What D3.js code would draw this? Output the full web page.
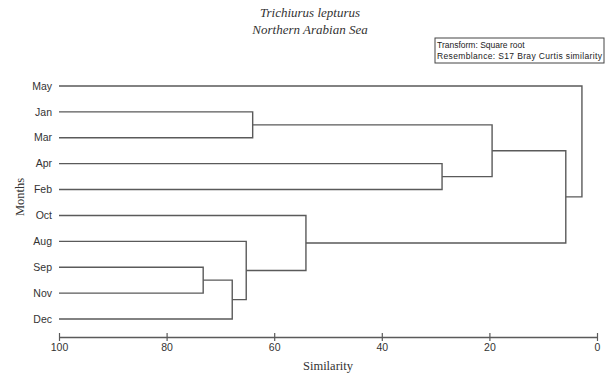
<!DOCTYPE html>
<html><head><meta charset="utf-8">
<script src="https://cdn.jsdelivr.net/npm/d3@7"></script>
<style>body{margin:0;background:#fff}svg{display:block}</style>
</head><body>
<script>
const months = ["May","Jan","Mar","Apr","Feb","Oct","Aug","Sep","Nov","Dec"];
// merges: children indices (0-9 leaves, 10+ earlier merges) and similarity level
const mergeLeft  = [7, 10, 6, 5, 1, 3, 14, 16, 0];
const mergeRight = [8, 9, 11, 12, 2, 4, 15, 13, 17];
const mergeSim   = [73.2, 67.8, 65.2, 54.1, 64.0, 28.8, 19.5, 5.8, 2.8];
const xTicks = [100, 80, 60, 40, 20, 0];

const W = 612, H = 378;
const svg = d3.select("body").append("svg").attr("width", W).attr("height", H);
const x = d3.scaleLinear().domain([100, 0]).range([59, 597]);
const y = d3.scalePoint().domain(months).range([86, 319]);
const lineCol = "#5a5a5a", textCol = "#333";

// node positions
const nodes = months.map(m => ({x: x(100), y: y(m)}));
mergeSim.forEach((s, i) => {
  const a = nodes[mergeLeft[i]], b = nodes[mergeRight[i]];
  nodes.push({x: x(s), y: (a.y + b.y) / 2, a, b});
});
const g = svg.append("g").attr("fill", "none").attr("stroke", lineCol).attr("stroke-width", 1.4);
nodes.slice(months.length).forEach(n => {
  g.append("path").attr("d",
    `M${n.a.x},${n.a.y}H${n.x}V${n.b.y}H${n.b.x}`);
});

// leaf labels
svg.append("g").selectAll("text").data(months).join("text")
  .attr("x", 52).attr("y", d => y(d)).attr("dy", "0.35em")
  .attr("text-anchor", "end").attr("font-family", "Liberation Sans, Arial, sans-serif")
  .attr("font-size", 10.5).attr("fill", textCol).text(d => d);

// x axis
const ax = svg.append("g").attr("transform", "translate(0,337)")
  .call(d3.axisBottom(x).tickValues(xTicks).tickSizeInner(4).tickSizeOuter(0).tickPadding(3));
ax.select(".domain").attr("stroke", lineCol).attr("stroke-width", 1.4);
ax.selectAll(".tick line").attr("y1", -4).attr("stroke", lineCol).attr("stroke-width", 1.2);
ax.selectAll(".tick text").attr("font-family", "Liberation Sans, Arial, sans-serif")
  .attr("font-size", 10.5).attr("fill", textCol);

svg.append("text").attr("x", 328).attr("y", 370).attr("text-anchor", "middle")
  .attr("font-family", "Liberation Serif, Times New Roman, serif").attr("font-size", 12.5)
  .attr("fill", textCol).text("Similarity");
svg.append("text").attr("transform", "translate(24,197) rotate(-90)").attr("text-anchor", "middle")
  .attr("font-family", "Liberation Serif, Times New Roman, serif").attr("font-size", 12.5)
  .attr("fill", textCol).text("Months");

// title
const titleLines = ["Trichiurus lepturus", "Northern Arabian Sea"];
svg.append("g").selectAll("text").data(titleLines).join("text")
  .attr("x", 310).attr("y", (d, i) => 17 + i * 17).attr("text-anchor", "middle")
  .attr("font-family", "Liberation Serif, Times New Roman, serif").attr("font-style", "italic")
  .attr("font-size", 13).attr("fill", textCol).text(d => d);

// info box
const info = ["Transform: Square root", "Resemblance: S17 Bray Curtis similarity"];
svg.append("rect").attr("x", 435).attr("y", 38).attr("width", 169).attr("height", 25)
  .attr("fill", "#fff").attr("stroke", "#444").attr("stroke-width", 1);
svg.append("g").selectAll("text").data(info).join("text")
  .attr("x", 437).attr("y", (d, i) => 48 + i * 11)
  .attr("font-family", "Liberation Sans, Arial, sans-serif").attr("font-size", 8.5)
  .attr("textLength", (d, i) => i === 1 ? 165 : null)
  .attr("fill", "#222").text(d => d);
</script>
</body></html>
